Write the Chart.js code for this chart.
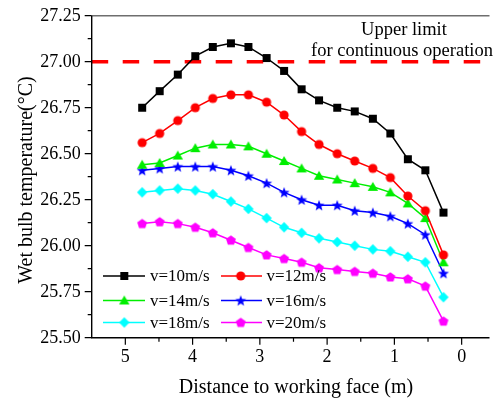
<!DOCTYPE html>
<html>
<head>
<meta charset="utf-8">
<script src="https://cdn.jsdelivr.net/npm/chart.js@4.4.0/dist/chart.umd.min.js"></script>
<style>
  html, body { margin: 0; padding: 0; background: #fff; }
  #wrap { width: 496px; height: 398px; }
</style>
</head>
<body>
<div id="wrap"><canvas id="myChart" width="496" height="398"></canvas></div>
<script>
// distance to working face (m)
var distance = [4.75, 4.49, 4.22, 3.96, 3.70, 3.43, 3.17, 2.90, 2.64, 2.38, 2.12, 1.85, 1.59, 1.32, 1.06, 0.80, 0.54, 0.27];

// wet bulb temperature (°C) per air velocity
var v10 = [26.75, 26.84, 26.93, 27.03, 27.08, 27.10, 27.08, 27.02, 26.95, 26.85, 26.79, 26.75, 26.73, 26.69, 26.61, 26.47, 26.41, 26.18];
var v12 = [26.56, 26.61, 26.68, 26.75, 26.80, 26.82, 26.82, 26.78, 26.71, 26.62, 26.55, 26.50, 26.46, 26.42, 26.37, 26.27, 26.19, 25.95];
var v14 = [26.44, 26.45, 26.49, 26.53, 26.55, 26.55, 26.54, 26.50, 26.46, 26.42, 26.38, 26.36, 26.34, 26.32, 26.29, 26.23, 26.15, 25.91];
var v16 = [26.41, 26.42, 26.43, 26.43, 26.43, 26.41, 26.38, 26.34, 26.29, 26.25, 26.22, 26.22, 26.19, 26.18, 26.16, 26.12, 26.06, 25.85];
var v18 = [26.29, 26.30, 26.31, 26.30, 26.28, 26.24, 26.20, 26.15, 26.10, 26.07, 26.04, 26.02, 26.00, 25.98, 25.97, 25.94, 25.91, 25.72];
var v20 = [26.12, 26.13, 26.12, 26.10, 26.07, 26.03, 25.99, 25.95, 25.93, 25.91, 25.88, 25.87, 25.86, 25.85, 25.83, 25.82, 25.78, 25.59];

var seriesLabels = ['v=10m/s', 'v=12m/s', 'v=14m/s', 'v=16m/s', 'v=18m/s', 'v=20m/s'];
var xTicks = [5, 4, 3, 2, 1, 0];
var yTicks = [25.50, 25.75, 26.00, 26.25, 26.50, 26.75, 27.00, 27.25];
var upperLimit = 27.00;
var limitText = ['Upper limit', 'for continuous operation'];
var xTitle = 'Distance to working face (m)';
var yTitle = 'Wet bulb temperature(°C)';

var X_MIN = -0.414, X_MAX = 5.5;
var FONT = "'Liberation Serif', 'Times New Roman', serif";

function makeMarker(shape, color) {
  var c = document.createElement('canvas');
  c.width = 14; c.height = 14;
  var g = c.getContext('2d');
  g.fillStyle = color;
  g.beginPath();
  var cx = 7, cy = 7, i, a;
  if (shape === 'square') {
    g.rect(cx - 4, cy - 4, 8, 8);
  } else if (shape === 'circle') {
    g.arc(cx, cy, 4.6, 0, Math.PI * 2);
  } else if (shape === 'triangle') {
    g.moveTo(cx, cy - 5); g.lineTo(cx + 5.2, cy + 4); g.lineTo(cx - 5.2, cy + 4);
  } else if (shape === 'star') {
    for (i = 0; i < 10; i++) {
      var r = i % 2 === 0 ? 5.8 : 2.4;
      a = -Math.PI / 2 + i * Math.PI / 5;
      g.lineTo(cx + r * Math.cos(a), cy + 0.5 + r * Math.sin(a));
    }
  } else if (shape === 'diamond') {
    g.moveTo(cx, cy - 5.2); g.lineTo(cx + 5.2, cy); g.lineTo(cx, cy + 5.2); g.lineTo(cx - 5.2, cy);
  } else if (shape === 'pentagon') {
    for (i = 0; i < 5; i++) {
      a = -Math.PI / 2 + i * 2 * Math.PI / 5;
      g.lineTo(cx + 5.2 * Math.cos(a), cy + 0.4 + 5.2 * Math.sin(a));
    }
  }
  g.closePath();
  g.fill();
  return c;
}

var colors = ['#000000', '#ff0000', '#00ee00', '#0000ff', '#00ffff', '#ff00ff'];
var shapes = ['square', 'circle', 'triangle', 'star', 'diamond', 'pentagon'];
var markers = shapes.map(function (s, i) { return makeMarker(s, colors[i]); });
var values = [v10, v12, v14, v16, v18, v20];

var datasets = values.map(function (vals, i) {
  return {
    label: seriesLabels[i],
    data: distance.map(function (d, j) { return { x: d, y: vals[j] }; }),
    borderColor: colors[i],
    backgroundColor: colors[i],
    borderWidth: 1.5,
    pointStyle: markers[i],
    pointRadius: 5,
    tension: 0
  };
});

datasets.push({
  label: 'limit',
  data: [{ x: X_MAX, y: upperLimit }, { x: X_MIN, y: upperLimit }],
  borderColor: '#ff0000',
  borderWidth: 3.5,
  borderDash: [16.5, 14.5],
  pointRadius: 0
});

var axisPlugin = {
  id: 'axisPlugin',
  afterDraw: function (chart) {
    var ctx = chart.ctx, area = chart.chartArea;
    var xs = chart.scales.x, ys = chart.scales.y;
    var i, p;
    ctx.save();

    // top frame line
    ctx.strokeStyle = '#6e6e6e';
    ctx.lineWidth = 1.5;
    ctx.beginPath();
    ctx.moveTo(area.left, area.top); ctx.lineTo(area.right, area.top);
    ctx.stroke();

    // axis lines
    ctx.strokeStyle = '#000';
    ctx.lineWidth = 1.4;
    ctx.beginPath();
    ctx.moveTo(area.left, area.top); ctx.lineTo(area.left, area.bottom); ctx.lineTo(area.right, area.bottom);
    ctx.stroke();

    // ticks
    ctx.lineWidth = 1.2;
    ctx.beginPath();
    for (i = 0; i < yTicks.length; i++) {
      p = ys.getPixelForValue(yTicks[i]);
      ctx.moveTo(area.left - 7, p); ctx.lineTo(area.left, p);
      if (i < yTicks.length - 1) {
        p = ys.getPixelForValue((yTicks[i] + yTicks[i + 1]) / 2);
        ctx.moveTo(area.left - 4, p); ctx.lineTo(area.left, p);
      }
    }
    for (i = 0; i < xTicks.length; i++) {
      p = xs.getPixelForValue(xTicks[i]);
      ctx.moveTo(p, area.bottom); ctx.lineTo(p, area.bottom + 7);
      if (i < xTicks.length - 1) {
        p = xs.getPixelForValue((xTicks[i] + xTicks[i + 1]) / 2);
        ctx.moveTo(p, area.bottom); ctx.lineTo(p, area.bottom + 4);
      }
    }
    ctx.stroke();

    // tick labels
    ctx.fillStyle = '#000';
    ctx.font = '18px ' + FONT;
    ctx.textAlign = 'right';
    ctx.textBaseline = 'middle';
    for (i = 0; i < yTicks.length; i++) {
      ctx.fillText(yTicks[i].toFixed(2), area.left - 11, ys.getPixelForValue(yTicks[i]) + 0.5);
    }
    ctx.textAlign = 'center';
    ctx.textBaseline = 'alphabetic';
    for (i = 0; i < xTicks.length; i++) {
      ctx.fillText(String(xTicks[i]), xs.getPixelForValue(xTicks[i]), 362);
    }

    // axis titles
    ctx.font = '20px ' + FONT;
    ctx.fillText(xTitle, 296, 393);
    ctx.save();
    ctx.translate(31.5, 180);
    ctx.rotate(-Math.PI / 2);
    ctx.fillText(yTitle, 0, 0);
    ctx.restore();

    // upper limit annotation
    ctx.font = '18.5px ' + FONT;
    ctx.fillText(limitText[0], 404, 35);
    ctx.fillText(limitText[1], 402, 56);

    // legend
    var rows = [276, 300.5, 322.5];
    var cols = [{ l: 103, r: 145, m: 124.3, t: 150 }, { l: 221, r: 262, m: 240.7, t: 266.5 }];
    ctx.font = '17px ' + FONT;
    ctx.textAlign = 'left';
    ctx.textBaseline = 'middle';
    for (i = 0; i < seriesLabels.length; i++) {
      var c = cols[i % 2], y = rows[Math.floor(i / 2)];
      ctx.strokeStyle = colors[i];
      ctx.lineWidth = 1.5;
      ctx.beginPath(); ctx.moveTo(c.l, y); ctx.lineTo(c.r, y); ctx.stroke();
      ctx.drawImage(markers[i], c.m - 7, y - 7);
      ctx.fillStyle = '#000';
      ctx.fillText(seriesLabels[i], c.t, y + 1);
    }
    ctx.restore();
  }
};

var ctx = document.getElementById('myChart').getContext('2d');
var chart = new Chart(ctx, {
  type: 'line',
  data: { datasets: datasets },
  options: {
    responsive: false,
    animation: false,
    layout: { padding: { left: 91.7, top: 15.7, right: 0, bottom: 60.3 } },
    plugins: { legend: { display: false }, tooltip: { enabled: false } },
    scales: {
      x: { type: 'linear', reverse: true, min: X_MIN, max: X_MAX, display: false },
      y: { type: 'linear', min: 25.5, max: 27.25, display: false }
    }
  },
  plugins: [axisPlugin]
});
</script>
</body>
</html>
